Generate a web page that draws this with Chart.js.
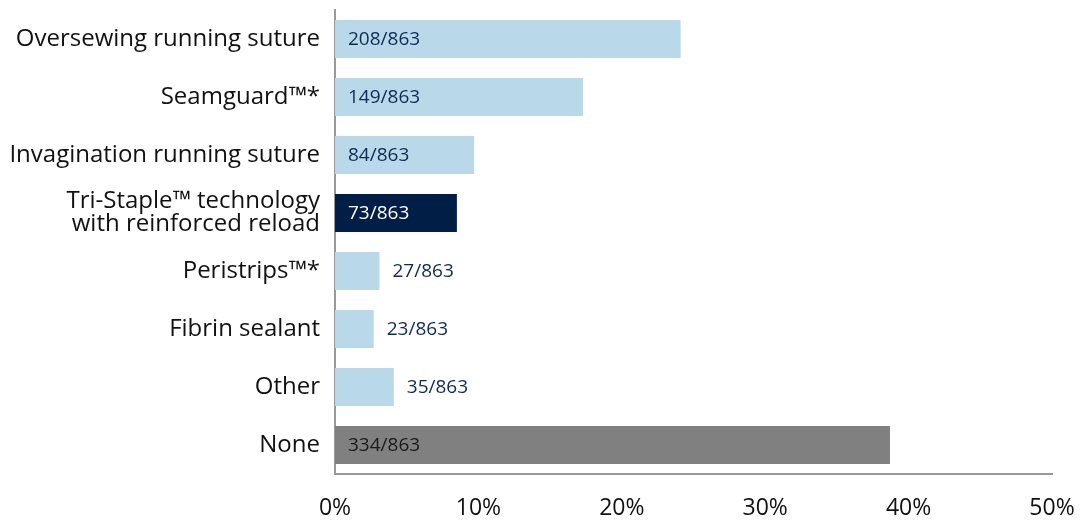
<!DOCTYPE html>
<html>
<head>
<meta charset="utf-8">
<script src="https://cdn.jsdelivr.net/npm/chart.js@4.4.1/dist/chart.umd.min.js"></script>
<style>
  html, body { margin: 0; padding: 0; background: #ffffff; }
  #wrap { width: 1084px; height: 521px; position: relative; }
</style>
</head>
<body>
<div id="wrap"><canvas id="barChart"></canvas></div>
<script>
const categories = [
  "Oversewing running suture",
  "Seamguard™*",
  "Invagination running suture",
  ["Tri-Staple™ technology", "with reinforced reload"],
  "Peristrips™*",
  "Fibrin sealant",
  "Other",
  "None"
];
const percentValues = [24.1, 17.3, 9.7, 8.5, 3.1, 2.7, 4.1, 38.7];
const countLabels = ["208/863", "149/863", "84/863", "73/863", "27/863", "23/863", "35/863", "334/863"];
const barColors = ["#b9d9ea", "#b9d9ea", "#b9d9ea", "#001e46", "#b9d9ea", "#b9d9ea", "#b9d9ea", "#808080"];
const labelColors = ["#0f2a52", "#0f2a52", "#0f2a52", "#ffffff", "#0f2a52", "#0f2a52", "#0f2a52", "#1a1a1a"];
const xTicks = [0, 10, 20, 30, 40, 50];

const FONT = "'Open Sans', 'Noto Sans', sans-serif";

// draws the n/863 text on or just past each bar
const barLabels = {
  id: "barLabels",
  afterDatasetsDraw(chart) {
    const ctx = chart.ctx;
    const meta = chart.getDatasetMeta(0);
    ctx.save();
    ctx.font = "19px " + FONT;
    ctx.textBaseline = "middle";
    ctx.textAlign = "left";
    meta.data.forEach((bar, i) => {
      const inside = percentValues[i] >= 6;
      ctx.fillStyle = inside ? labelColors[i] : "#0f2a52";
      const x = inside ? bar.base + 13 : bar.x + 13;
      ctx.fillText(countLabels[i], x, bar.y + 1);
    });
    ctx.restore();
  }
};

const ctx = document.getElementById("barChart").getContext("2d");
new Chart(ctx, {
  type: "bar",
  data: {
    labels: categories,
    datasets: [
      {
        data: percentValues,
        backgroundColor: barColors,
        borderWidth: 0,
        barPercentage: 0.655,
        categoryPercentage: 1
      }
    ]
  },
  options: {
    indexAxis: "y",
    responsive: true,
    maintainAspectRatio: false,
    animation: false,
    layout: { padding: { top: 10, right: 32, left: 0, bottom: 0 } },
    plugins: {
      legend: { display: false },
      tooltip: { enabled: false }
    },
    scales: {
      x: {
        min: 0,
        max: 50,
        afterBuildTicks(axis) {
          axis.ticks = xTicks.map(v => ({ value: v }));
        },
        afterFit(axis) {
          axis.height = 47;
          axis.paddingLeft = 0;
          axis.paddingRight = 0;
        },
        grid: { display: false, drawTicks: false },
        border: { display: true, color: "#999999", width: 2 },
        ticks: {
          padding: 21,
          color: "#111111",
          font: { family: FONT, size: 23 },
          maxRotation: 0,
          callback: v => v + "%"
        }
      },
      y: {
        afterFit(axis) {
          axis.width = 335;
          axis.paddingTop = 0;
          axis.paddingBottom = 0;
        },
        grid: { display: false, drawTicks: false },
        border: { display: true, color: "#999999", width: 2 },
        ticks: {
          padding: 15,
          color: "#111111",
          font: { family: FONT, size: 24, lineHeight: 0.97 }
        }
      }
    }
  },
  plugins: [barLabels]
});
</script>
</body>
</html>
